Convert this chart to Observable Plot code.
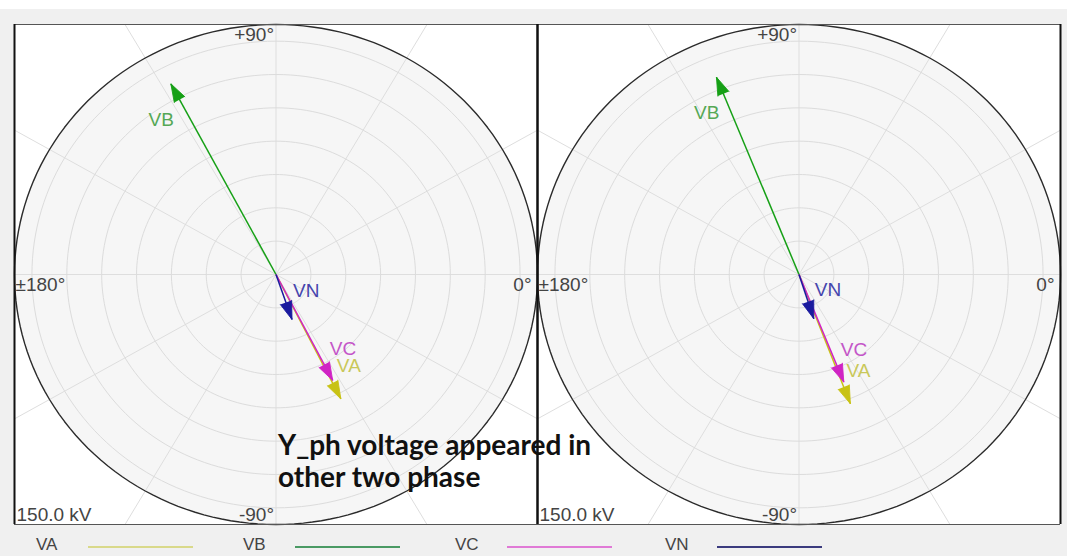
<!DOCTYPE html>
<html>
<head>
<meta charset="utf-8">
<script src="https://cdn.jsdelivr.net/npm/d3@7"></script>
<script src="https://cdn.jsdelivr.net/npm/@observablehq/plot@0.6"></script>
<style>
  html, body { margin: 0; padding: 0; background: #fff; }
  #wrap { position: relative; width: 1067px; height: 547px; margin-top: 9px; background: #f0f0f0; overflow: hidden; }
  #chart svg { display: block; }
  #note { position: absolute; left: 278px; top: 419px; font: bold 28px/32px Lato, "Open Sans", sans-serif; color: #111; white-space: nowrap; pointer-events: none; }
  #legend { position: absolute; left: 0; top: 518px; width: 1067px; height: 29px; font: 17px "Liberation Sans", Arial, sans-serif; color: #444; }
  #legend .lbl { position: absolute; top: 8px; line-height: 20px; }
  #legend .swatch { position: absolute; top: 19px; height: 2px; }
</style>
</head>
<body>
<div id="wrap">
  <div id="chart"></div>
  <div id="note"></div>
  <div id="legend"></div>
</div>
<script>
// Phasor snapshots: magnitude (kV) and angle (degrees) per phase, two panels
const phases = ["VA", "VB", "VC", "VN"];
const panels = ["left", "right"];
const leftMagnitude = [83.4, 129.3, 71.4, 28.5];
const leftAngle = [-63.5, 117.8, -62.9, -71.2];
const rightMagnitude = [83.0, 127.5, 69.5, 27.9];
const rightAngle = [-69.2, 111.8, -68.3, -72.3];

const arrowColors = ["#c8c214", "#16a016", "#d024c4", "#1a1a9e"];
const labelColors = ["#c9c85a", "#55a855", "#c455c8", "#4545ad"];
const legendColors = ["#d9d98a", "#4a9a64", "#e07ad6", "#3b3b7e"];

const fullScale = 150;          // kV at the outer circle
const ringStep = 20;            // kV between rings
const spokeStep = 30;           // degrees between spokes
const angleTicks = [90, 180, 0, -90];
const angleTickLabels = ["+90°", "±180°", "0°", "-90°"];
const scaleLabel = "150.0 kV";
const noteLines = ["Y_ph voltage appeared in", "other two phase"];

// Layout
const width = 1067, height = 518;
const marginLeft = 13, marginRight = 7, marginTop = 15, marginBottom = 3;
const facetWidth = (width - marginLeft - marginRight) / 2;
const frameHeight = height - marginTop - marginBottom;
const sx = facetWidth / (2 * fullScale), sy = frameHeight / (2 * fullScale);

const rad = Math.PI / 180;
const vectors = [];
[[leftMagnitude, leftAngle], [rightMagnitude, rightAngle]].forEach(([mag, ang], p) => {
  phases.forEach((ph, i) => {
    vectors.push({
      panel: panels[p], phase: ph, magnitude: mag[i], angle: ang[i],
      x: mag[i] * Math.cos(ang[i] * rad), y: mag[i] * Math.sin(ang[i] * rad),
      color: arrowColors[i], labelColor: labelColors[i]
    });
  });
});

// Polar grid geometry
const circlePoints = (r) => d3.range(0, 361, 2).map(a => ({r, x: r * Math.cos(a * rad), y: r * Math.sin(a * rad)}));
const ringPoints = d3.range(ringStep, fullScale, ringStep).flatMap(circlePoints);
const outline = circlePoints(fullScale);
const disk = d3.range(-fullScale, fullScale + 0.01, 1).map(x => {
  const h = Math.sqrt(Math.max(0, fullScale * fullScale - x * x));
  return {x, lo: -h, hi: h};
});
const spokes = d3.range(0, 360, spokeStep).map(a => ({x: 3 * fullScale * Math.cos(a * rad), y: 3 * fullScale * Math.sin(a * rad)}));
const ticks = angleTicks.map((a, i) => ({x: fullScale * Math.cos(a * rad), y: fullScale * Math.sin(a * rad), label: angleTickLabels[i]}));

const labelPlacement = {
  VA: {textAnchor: "start", dx: -4, dy: -33},
  VB: {textAnchor: "end", dx: 3, dy: 36},
  VC: {textAnchor: "start", dx: -3, dy: -32},
  VN: {textAnchor: "start", dx: 1, dy: -29}
};
const tickPlacement = {
  "+90°": {textAnchor: "end", dx: -2, lineAnchor: "top", dy: 3},
  "±180°": {textAnchor: "start", dx: 1, lineAnchor: "top", dy: 3},
  "0°": {textAnchor: "end", dx: -6, lineAnchor: "top", dy: 3},
  "-90°": {textAnchor: "end", dx: -2, lineAnchor: "bottom", dy: -4}
};

const chart = Plot.plot({
  width, height, marginLeft, marginRight, marginTop, marginBottom,
  style: {background: "transparent", fontFamily: "'Liberation Sans', Arial, sans-serif"},
  fx: {domain: panels, padding: 0, axis: null},
  x: {domain: [-fullScale, fullScale], axis: null},
  y: {domain: [-fullScale, fullScale], axis: null},
  color: {type: "identity"},
  marks: [
    Plot.frame({fill: "white", stroke: "none"}),
    Plot.areaY(disk, {x: "x", y1: "lo", y2: "hi", fill: "#f6f6f6"}),
    Plot.link(spokes, {x1: 0, y1: 0, x2: "x", y2: "y", stroke: "#dedede", strokeWidth: 1, clip: true}),
    Plot.line(ringPoints, {x: "x", y: "y", z: "r", stroke: "#dcdcdc", strokeWidth: 1}),
    Plot.line(outline, {x: "x", y: "y", stroke: "#2b2b2b", strokeWidth: 1.4}),
    Plot.ruleY([-fullScale, fullScale], {stroke: "#555", strokeWidth: 1.2}),
    Plot.ruleX([-fullScale, fullScale], {stroke: "#111", strokeWidth: 2}),
    ...ticks.map(t => Plot.text([t], {x: "x", y: "y", text: "label", fontSize: 19, fill: "#444", ...tickPlacement[t.label]})),
    Plot.text([scaleLabel], {x: -fullScale, y: -fullScale, text: d => d, textAnchor: "start", lineAnchor: "bottom", dx: 2, dy: -4, fontSize: 19, fill: "#444"}),
    // shafts, then arrowheads
    Plot.link(vectors, {fx: "panel", x1: 0, y1: 0, x2: "x", y2: "y", stroke: "color", strokeWidth: 1.5,
      strokeDasharray: d => d.phase === "VC" || d.phase === "VN" ? "1.5,1.5" : null}),
    Plot.vector(vectors, {fx: "panel", x: "x", y: "y", anchor: "end", shape: "spike", length: 18, r: 6,
      rotate: d => 90 - Math.atan2(d.y * sy, d.x * sx) / rad, fill: "color", stroke: "color", strokeWidth: 0.8}),
    ...phases.map(ph => Plot.text(vectors.filter(d => d.phase === ph), {
      fx: "panel", x: "x", y: "y", text: "phase", fill: "labelColor", fontSize: 19, ...labelPlacement[ph]
    }))
  ]
});
document.getElementById("chart").append(chart);

document.getElementById("note").innerHTML = noteLines.join("<br>");

// Legend: label followed by a line swatch for each phase
const legendX = [36, 243, 455, 665];
const legend = document.getElementById("legend");
phases.forEach((ph, i) => {
  const lbl = document.createElement("span");
  lbl.className = "lbl";
  lbl.textContent = ph;
  lbl.style.left = legendX[i] + "px";
  legend.append(lbl);
  const sw = document.createElement("span");
  sw.className = "swatch";
  sw.style.left = (legendX[i] + 52) + "px";
  sw.style.width = "105px";
  sw.style.background = legendColors[i];
  legend.append(sw);
});
</script>
</body>
</html>
